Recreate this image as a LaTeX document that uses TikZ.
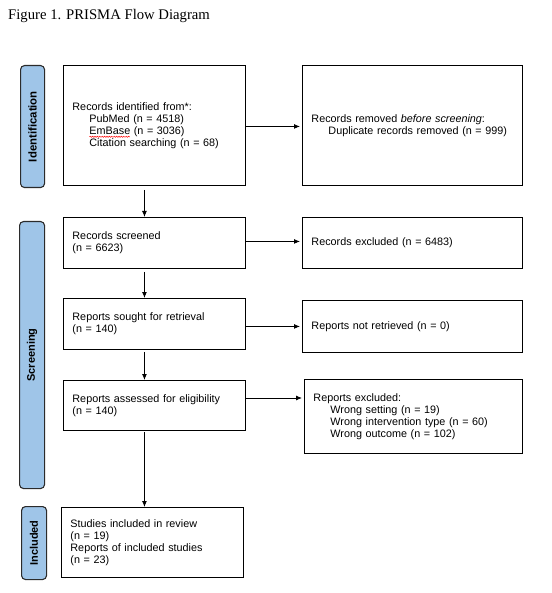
\documentclass[tikz,border=0pt]{standalone}
\usepackage{fontspec}
\setmainfont{Liberation Sans}
\newfontfamily\titlefont{Liberation Serif}
\usetikzlibrary{arrows.meta,decorations.pathmorphing}
\definecolor{sidebl}{HTML}{9FC5E8}
\definecolor{sideedge}{HTML}{2B2B2B}
\newcommand\redwave[1]{\rlap{\tikz[overlay,baseline=0pt]\draw[red, line width=0.5pt, decorate, decoration={snake, amplitude=0.6pt, segment length=2.4pt}] (0pt,-2.6pt) -- (40.5pt,-2.6pt);}#1}
\tikzset{
  box/.style={draw, line width=0.9pt, inner xsep=9pt, inner ysep=0pt, align=left,
    anchor=north west, font=\fontsize{10.8}{11.9}\selectfont},
  side/.style={draw=sideedge, fill=sidebl, line width=1.1pt, rounded corners=4pt,
    anchor=north west, inner sep=0pt},
  sidelab/.style={rotate=90, font=\bfseries\fontsize{11}{12}\selectfont},
  arr/.style={-{Latex[length=6pt,width=5pt]}, line width=0.9pt},
}
\newcommand{\ind}{\hspace*{17pt}}
\begin{document}
\begin{tikzpicture}[x=1pt,y=-1pt]
\useasboundingbox (0,0) rectangle (551,593);
\node[anchor=west, inner sep=0pt, font=\titlefont\fontsize{14.7}{17}\selectfont] (title) at (8,16) {Figure 1. PRISMA Flow Diagram};

% side labels
\node[side, minimum width=24pt, minimum height=122pt] (s1) at (20,65) {};
\node[sidelab, font=\bfseries\fontsize{11.4}{12}\selectfont] (l1) at (s1.center) {Identification};
\node[side, minimum width=25pt, minimum height=267pt] (s2) at (19,221) {};
\node[sidelab] (l2) at (s2.center) {Screening};
\node[side, minimum width=25pt, minimum height=73pt] (s3) at (21,506) {};
\node[sidelab] (l3) at (s3.center) {Included};

% main boxes
\node[box, text width=164pt, minimum height=120pt] (b1) at (63,65)
  {Records identified from*:\\\ind PubMed (n = 4518)\\\ind \redwave{EmBase} (n = 3036)\\\ind Citation searching (n = 68)};
\node[box, text width=202pt, minimum height=120pt] (b2) at (302,65)
  {Records removed \emph{before screening}:\\\ind Duplicate records removed (n = 999)};
\node[box, text width=164pt, minimum height=51pt] (b3) at (63,217)
  {Records screened\\(n = 6623)};
\node[box, text width=202pt, minimum height=51pt] (r1) at (302,217)
  {Records excluded (n = 6483)};
\node[box, text width=164pt, minimum height=51pt] (b4) at (63,298)
  {Reports sought for retrieval\\(n = 140)};
\node[box, text width=202pt, minimum height=52pt] (r2) at (302,300)
  {Reports not retrieved (n = 0)};
\node[box, text width=164pt, minimum height=50pt] (b5) at (63,380)
  {Reports assessed for eligibility\\(n = 140)};
\node[box, text width=200pt, minimum height=74pt] (r3) at (304,379)
  {Reports excluded:\\\ind Wrong setting (n = 19)\\\ind Wrong intervention type (n = 60)\\\ind Wrong outcome (n = 102)};
\node[box, text width=164pt, minimum height=70pt] (b6) at (61,507)
  {Studies included in review\\(n = 19)\\Reports of included studies\\(n = 23)};

% connectors
\coordinate (y5) at (0,398);
\draw[arr] ([xshift=-10pt,yshift=-4pt]b1.south) -- ([xshift=-10pt]b1.south |- b3.north);
\draw[arr] ([xshift=-10pt,yshift=-3pt]b3.south) -- ([xshift=-10pt]b3.south |- b4.north);
\draw[arr] ([xshift=-10pt,yshift=-2pt]b4.south) -- ([xshift=-10pt]b4.south |- b5.north);
\draw[arr] ([xshift=-10pt,yshift=-1pt]b5.south) -- ([xshift=-10pt]b5.south |- b6.north);
\draw[arr] ([yshift=-1pt]b1.east) -- ([xshift=-2pt,yshift=-1pt]b2.west);
\draw[arr] ([yshift=1.5pt]b3.east) -- ([xshift=-2pt,yshift=1.5pt]r1.west);
\draw[arr] (b4.east |- r2.west) -- ([xshift=-2pt]r2.west);
\draw[arr] (b5.east |- y5) -- ([xshift=-2pt]r3.west |- y5);
\end{tikzpicture}
\end{document}
